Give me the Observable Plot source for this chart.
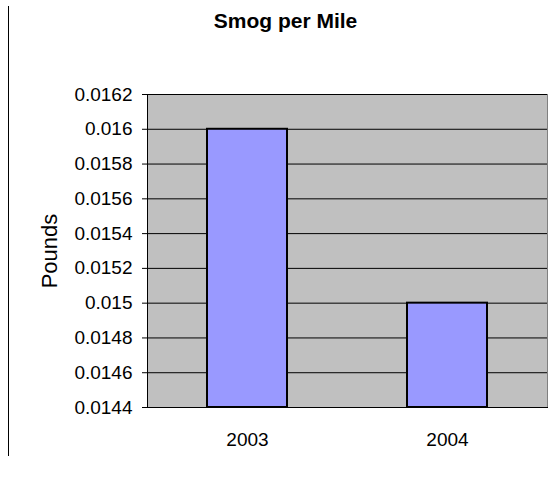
<!DOCTYPE html>
<html><head><meta charset="utf-8">
<script src="https://cdn.jsdelivr.net/npm/d3@7"></script>
<script src="https://cdn.jsdelivr.net/npm/@observablehq/plot@0.6"></script>
<style>
body{margin:0;background:#fff;}
#wrap{position:relative;width:555px;height:481px;font-family:"Liberation Sans",Arial,sans-serif;}
#title{position:absolute;left:0;width:571px;top:10px;text-align:center;font-weight:bold;font-size:21px;line-height:22px;}
#border{position:absolute;left:8px;top:6px;height:450px;border-left:1px solid #000;}
#chart{position:absolute;left:0;top:0;}
</style></head><body>
<div id="wrap"><div id="chart"></div><div id="border"></div><div id="title">Smog per Mile</div></div>
<script>
const years = ["2003", "2004"];
const pounds = [0.016, 0.015];
const yTicks = [0.0144, 0.0146, 0.0148, 0.015, 0.0152, 0.0154, 0.0156, 0.0158, 0.016, 0.0162];
const yDomain = [0.0144, 0.0162];
const yLabel = "Pounds";

const data = years.map((y, i) => ({year: y, value: pounds[i]}));
const fmt = d => String(+d.toFixed(4));

const chart = Plot.plot({
  width: 555, height: 481,
  marginLeft: 147, marginRight: 8, marginTop: 94, marginBottom: 74,
  style: {fontFamily: '"Liberation Sans", Arial, sans-serif', fontSize: "19px", color: "#000", background: "transparent"},
  x: {domain: years, paddingInner: 0.6, paddingOuter: 0.3},
  y: {domain: yDomain},
  marks: [
    Plot.frame({fill: "#c0c0c0", stroke: "#808080"}),
    Plot.gridY(yTicks, {stroke: "#000", strokeOpacity: 1}),
    Plot.barY(data, {x: "year", y1: yDomain[0], y2: "value", fill: "#9999ff", stroke: "#000", strokeWidth: 2}),
    Plot.frame({anchor: "left", stroke: "#000"}),
    Plot.frame({anchor: "bottom", stroke: "#000"}),
    Plot.axisY(yTicks, {tickFormat: fmt, tickSize: 5, tickPadding: 10, label: null, fontSize: 19}),
    Plot.text([yLabel], {frameAnchor: "left", textAnchor: "middle", rotate: -90, dx: -98, fontSize: 22, fill: "#000"}),
    Plot.axisX({tickSize: 0, tickPadding: 25, label: null, fontSize: 19})
  ]
});
document.getElementById("chart").appendChild(chart);
</script>
</body></html>
